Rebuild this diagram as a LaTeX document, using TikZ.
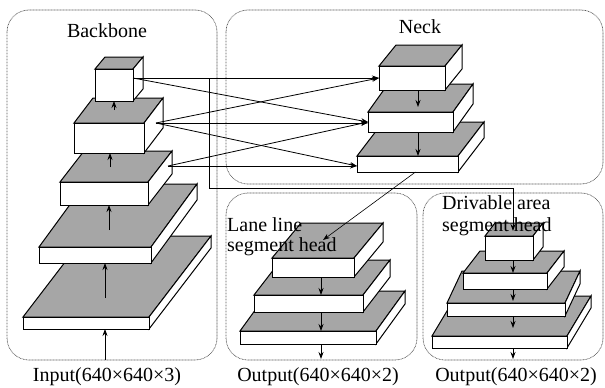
\documentclass[tikz,border=0pt]{standalone}
\usepackage{fontspec}
\setmainfont{Liberation Serif}
\usetikzlibrary{arrows.meta,calc}
\tikzset{
  cubeline/.style={draw=black, line width=1pt, line join=miter},
  topface/.style={cubeline, fill=black!35},
  sideface/.style={cubeline, fill=white},
  frontface/.style={cubeline, fill=white, rectangle, inner sep=0pt, outer sep=0pt},
  region/.style={draw=black!65, line width=0.7pt, dash pattern=on 0.8pt off 0.7pt, rounded corners=22pt},
  arr/.style={draw=black, line width=0.8pt, -{Stealth[length=7pt,width=5pt]}},
  thinarr/.style={draw=black, line width=0.6pt, -{Stealth[length=7pt,width=5pt]}},
  lbl/.style={font=\fontsize{20}{20}\selectfont, inner sep=0pt},
}
% name, x1, y1, x2, y2 (front face), dx, dy (depth offset, dy upward)
\newcommand{\cuboid}[7]{%
  \draw[topface] (#2,#3) -- ++(#6,-#7) -- ++({#4-#2},0) -- (#4,#3) -- cycle;
  \draw[sideface] (#4,#3) -- ++(#6,-#7) -- ++(0,{#5-#3}) -- (#4,#5) -- cycle;
  \node[frontface, minimum width={#4-#2}, minimum height={#5-#3}] (#1) at ({(#2+#4)/2},{(#3+#5)/2}) {};
}
\begin{document}
\begin{tikzpicture}[x=1pt,y=-1pt]
\useasboundingbox (0,0) rectangle (605,388);
% regions
\draw[region] (7,10) rectangle (217,360);
\draw[region] (226,10) rectangle (603,184);
\draw[region] (226,193) rectangle (417,360);
\draw[region] (423,193) rectangle (603,360);
% backbone
\cuboid{bb5}{23}{317}{149}{329}{62}{81}
\cuboid{bb4}{39}{247}{151}{263}{46}{63}
\cuboid{bb3}{60}{182}{148}{205}{24}{31}
\cuboid{bb2}{74}{123}{144}{153}{19}{25}
\cuboid{bb1}{95}{69}{133}{101}{10}{12}
% neck
\cuboid{n3}{357}{156}{458}{172}{26}{34}
\cuboid{n2}{368}{112}{453}{132}{20}{28}
\cuboid{n1}{379}{66}{445}{90}{17}{21}
% lane line head
\cuboid{l3}{240}{331}{376}{344}{29}{40}
\cuboid{l2}{254}{295}{363}{312}{27}{35}
\cuboid{l1}{272}{258}{354}{277}{29}{35}
% drivable area head
\cuboid{d4}{432}{336}{567}{348}{24}{40}
\cuboid{d3}{447}{303}{565}{316}{15}{32}
\cuboid{d2}{463}{273}{547}{289}{17}{22}
\cuboid{d1}{485}{236}{533}{260}{10}{13}
% backbone arrows
\coordinate (inp) at (105,360);
\coordinate (a5) at (105,298);
\coordinate (a4) at (109,230);
\coordinate (a3) at (110,167);
\coordinate (a2) at (114,110);
\draw[arr] (inp) -- (inp |- bb5.south);
\draw[arr] (a5) -- (a5 |- bb4.south);
\draw[arr] (a4) -- (a4 |- bb3.south);
\draw[arr] (a3) -- (a3 |- bb2.south);
\draw[arr] (a2) -- (a2 |- bb1.south);
% backbone -> neck
\coordinate (s1) at (133,78);
\coordinate (s2) at (156,123);
\coordinate (s3) at (168,166);
\coordinate (t3) at (s3 -| n3.west);
\draw[arr] (s1) -- (s1 -| n1.west);
\draw[arr] (s1) -- (n2.west);
\draw[arr] (s2) -- (n1.west);
\draw[arr] (s2) -- (s2 -| n2.west);
\draw[arr] (s2) -- (t3);
\draw[arr] (s3) -- (n2.west);
\draw[arr] (s3) -- (t3);
% bracket to drivable head
\coordinate (j) at (209,78);
\coordinate (k) at (513,188);
\draw[arr] (j) |- (k) -- ($(k |- d1.north)+(0,-5)$);
% neck arrows
\coordinate (nax) at (418,0);
\draw[arr] (n1.south -| nax) -- ++(0,17);
\draw[arr] (n2.south -| nax) -- (n3.north -| nax);
% neck -> lane head
\coordinate (lt) at (323,240);
\draw[thinarr] ($(n3.south)+(8,0)$) -- (lt);
% lane arrows
\coordinate (lax) at (321,0);
\draw[arr] (l1.south -| lax) -- (l2.north -| lax);
\draw[arr] (l2.south -| lax) -- (l3.north -| lax);
\draw[arr] (l3.south -| lax) -- ++(0,15);
% drivable arrows
\coordinate (dax) at (513,0);
\draw[arr] (d1.south -| dax) -- (d2.north -| dax);
\draw[arr] (d2.south -| dax) -- ++(0,12);
\draw[arr] (d3.south -| dax) -- ++(0,12);
\draw[arr] (d4.south -| dax) -- ++(0,11);
% labels
\node[lbl, anchor=base] (tb) at (107,37) {Backbone};
\node[lbl, anchor=base] (tn) at (420,33) {Neck};
\node[lbl, anchor=north west, align=left, font=\fontsize{20}{20}\selectfont] (tl) at (227,217) {Lane line\\segment head};
\node[lbl, anchor=north west, align=left, font=\fontsize{20}{22}\selectfont] (td) at (442,195) {Drivable area\\segment head};
\node[lbl, anchor=base] (ti) at (107,381) {Input(640×640×3)};
\node[lbl, anchor=base] (to1) at (318,381) {Output(640×640×2)};
\node[lbl, anchor=base] (to2) at (516,381) {Output(640×640×2)};
\end{tikzpicture}
\end{document}
